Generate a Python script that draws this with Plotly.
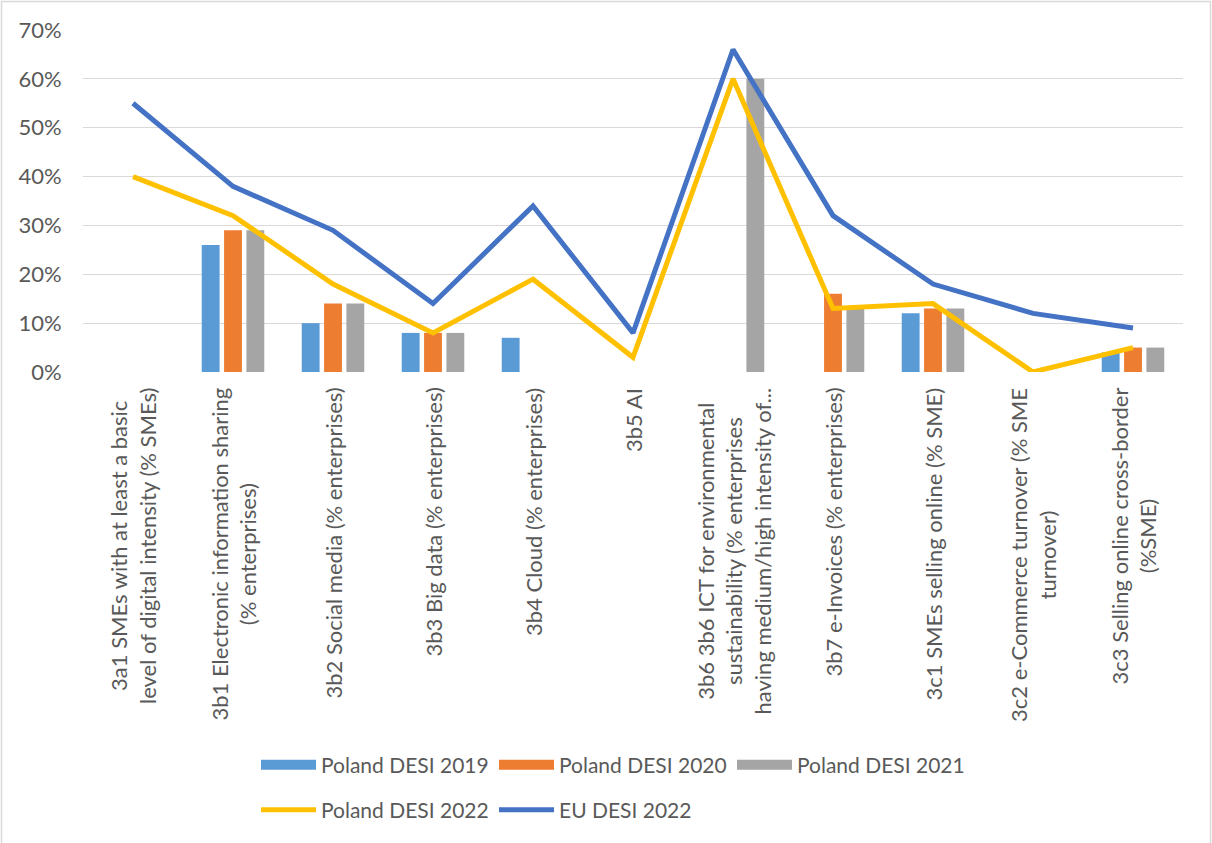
import plotly.graph_objects as go

categories = [
    "3a1 SMEs with at least a basic<br>level of digital intensity (% SMEs)",
    "3b1 Electronic information sharing<br>(% enterprises)",
    "3b2 Social media (% enterprises)",
    "3b3 Big data (% enterprises)",
    "3b4 Cloud (% enterprises)",
    "3b5 AI",
    "3b6 3b6 ICT for environmental<br>sustainability (% enterprises<br>having medium/high intensity of...",
    "3b7 e-Invoices (% enterprises)",
    "3c1 SMEs selling online (% SME)",
    "3c2 e-Commerce turnover (% SME<br>turnover)",
    "3c3 Selling online cross-border<br>(%SME)",
]

poland_2019 = [None, 26, 10, 8, 7, None, None, None, 12, None, 4]
poland_2020 = [None, 29, 14, 8, None, None, None, 16, 13, None, 5]
poland_2021 = [None, 29, 14, 8, None, None, 60, 13, 13, None, 5]
poland_2022 = [40, 32, 18, 8, 19, 3, 60, 13, 14, 0, 5]
eu_2022 = [55, 38, 29, 14, 34, 8, 66, 32, 18, 12, 9]

y_ticks = [0, 10, 20, 30, 40, 50, 60, 70]
y_tick_labels = [f"{v}%" for v in y_ticks]

FONT = "Lato"
TEXT_COLOR = "#595959"

fig = go.Figure()

bar_series = [
    ("Poland DESI 2019", poland_2019, "#5B9BD5"),
    ("Poland DESI 2020", poland_2020, "#ED7D31"),
    ("Poland DESI 2021", poland_2021, "#A5A5A5"),
]
for name, vals, color in bar_series:
    fig.add_trace(go.Bar(
        x=categories, y=vals, name=name,
        marker=dict(color=color, line=dict(width=0)),
        legendgroup=name, showlegend=False,
    ))
    # wide flat key for the bar series in the legend
    fig.add_trace(go.Scatter(
        x=[None], y=[None], name=name, mode="lines",
        line=dict(color=color, width=14),
        legendgroup=name, legend="legend", hoverinfo="skip",
    ))

line_series = [
    ("Poland DESI 2022", poland_2022, "#FFC000"),
    ("EU DESI 2022", eu_2022, "#4472C4"),
]
for name, vals, color in line_series:
    fig.add_trace(go.Scatter(
        x=categories, y=vals, name=name, mode="lines",
        line=dict(color=color, width=5),
        legend="legend2",
    ))

# rotated, centred category labels hanging below the axis
for cat in categories:
    fig.add_annotation(
        x=cat, xref="x", y=0, yref="paper",
        text=cat, textangle=-90, showarrow=False,
        xanchor="center", yanchor="top", yshift=-14, align="center",
        font=dict(family=FONT, size=22, color=TEXT_COLOR),
    )

# chart frame
fig.add_shape(
    type="rect", xref="paper", yref="paper",
    x0=(1.5 - 83) / 1100, x1=(1210.5 - 83) / 1100,
    y0=-(850 - 372) / 342, y1=1 + (30 - 1.5) / 342,
    line=dict(color="#D9D9D9", width=1.5), fillcolor="rgba(0,0,0,0)",
    layer="below",
)

legend_common = dict(
    orientation="h", xanchor="left", yanchor="middle",
    font=dict(family=FONT, size=21, color=TEXT_COLOR),
    itemwidth=55, entrywidthmode="pixels", entrywidth=168,
    bgcolor="rgba(0,0,0,0)", borderwidth=0, itemclick=False,
    itemsizing="trace",
)

fig.update_layout(
    width=1212, height=843,
    margin=dict(l=83, r=29, t=30, b=471),
    paper_bgcolor="white", plot_bgcolor="white",
    barmode="group", bargap=0.33, bargroupgap=0.2,
    font=dict(family=FONT, size=22, color=TEXT_COLOR),
    xaxis=dict(type="category", range=[-0.5, 10.5], showticklabels=False,
               showgrid=False, zeroline=False, showline=False, ticks=""),
    yaxis=dict(range=[0, 70], tickmode="array", tickvals=y_ticks,
               ticktext=y_tick_labels,
               showgrid=True, gridcolor="#D9D9D9", gridwidth=1.3,
               zeroline=False, showline=False,
               ticks="outside", ticklen=16, tickcolor="rgba(0,0,0,0)",
               tickfont=dict(family=FONT, size=22, color=TEXT_COLOR)),
    legend=dict(x=(256 - 83) / 1100, y=-(765 - 372) / 342, **legend_common),
    legend2=dict(x=(256 - 83) / 1100, y=-(810 - 372) / 342, **legend_common),
    showlegend=True,
)

fig.write_html("out.html")
